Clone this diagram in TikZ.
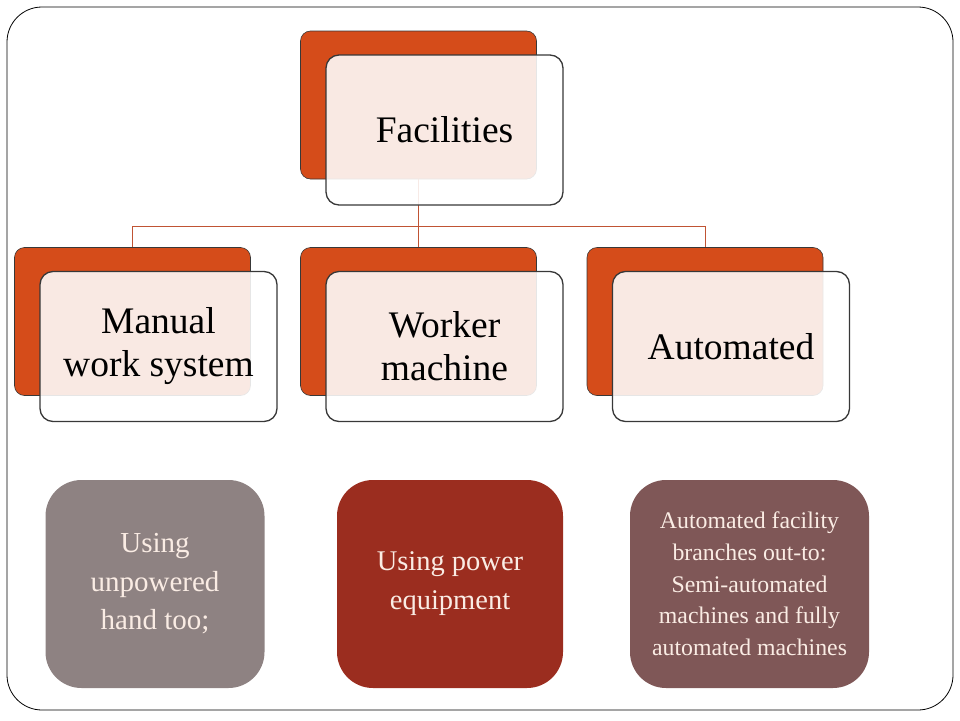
\documentclass[tikz,border=0pt]{standalone}
\usepackage{fontspec}
\setmainfont{Liberation Serif}
\usetikzlibrary{positioning}

\definecolor{boxorange}{RGB}{213,76,26}
\definecolor{boxedge}{RGB}{56,56,56}
\definecolor{linkred}{RGB}{192,84,52}
\definecolor{notegrey}{RGB}{142,130,130}
\definecolor{notered}{RGB}{155,45,31}
\definecolor{notebrown}{RGB}{127,87,87}
\definecolor{notetext}{RGB}{250,236,228}

\begin{document}
\begin{tikzpicture}[x=1pt,y=-1pt, every node/.append style={on grid},
                    back/.style={draw=boxedge,line width=0.6pt,fill=boxorange,rounded corners=10pt,
                                 minimum width=236pt,minimum height=148pt,inner sep=0pt},
                    front/.style={draw=boxedge,line width=1.3pt,fill=white,fill opacity=0.88,text opacity=1,
                                  rounded corners=13pt,minimum width=237pt,minimum height=150pt,
                                  align=center,font=\fontsize{37.5}{43}\selectfont},
                    note/.style={fill=#1,rounded corners=36pt,text=notetext,align=center,inner sep=0pt},
                    link/.style={draw=linkred,line width=0.8pt}]

\useasboundingbox (0,0) rectangle (960,720);
\draw[line width=0.8pt,rounded corners=35pt] (7,7) rectangle (953,710);

\node[back] (facB) at (418.5,105) {};
\node[back, below left=216.5pt and 286pt of facB] (manB) {};
\node[back, below=216.5pt of facB] (wrkB) {};
\node[back, below right=216.5pt and 286.5pt of facB] (autB) {};

\draw[link] (facB.south) -- ++(0,47) -| (manB.north);
\draw[link] (facB.south) -- ++(0,47) -| (autB.north);
\draw[link] (facB.south) -- (wrkB.north);

\node[front, below right=25pt and 26pt of facB] (fac) {Facilities};
\node[front, below right=25pt and 26pt of manB] (man) {Manual\\work system};
\node[front, below right=25pt and 26pt of wrkB] (wrk) {Worker\\machine};
\node[front, below right=25pt and 26pt of autB] (aut) {Automated};

\node[note=notegrey, minimum width=219pt, minimum height=208pt, font=\fontsize{29}{38.5}\selectfont]
     (hand) at (155,584) {Using\\unpowered\\hand too;};
\node[note=notered, minimum width=226pt, minimum height=208pt, font=\fontsize{28.5}{39}\selectfont]
     (power) at (450,584) {Using power\\equipment};
\node[note=notebrown, minimum width=239pt, minimum height=208pt, font=\fontsize{23.8}{31.7}\selectfont]
     (auto) at (749.5,584) {Automated facility\\branches out-to:\\Semi-automated\\machines and fully\\automated machines};

\end{tikzpicture}
\end{document}
